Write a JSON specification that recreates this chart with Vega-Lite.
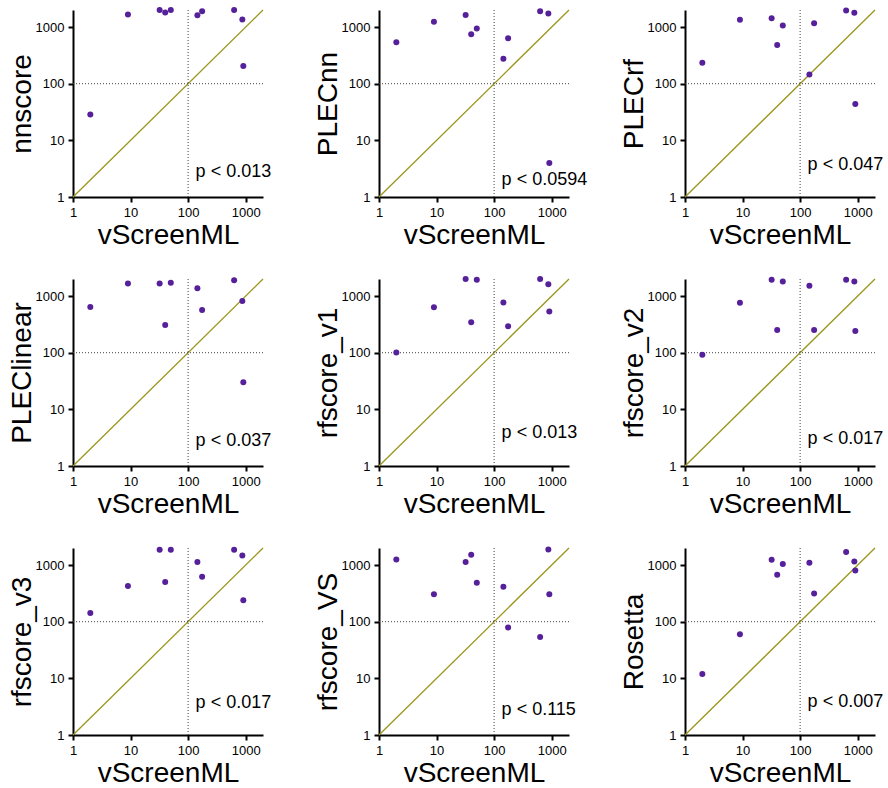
{
"$schema": "https://vega.github.io/schema/vega-lite/v6.json",
"padding": {"left": 8, "top": 7, "right": 5, "bottom": 0},
"background": "white",
"columns": 3,
"bounds": "flush",
"spacing": {"row": 82, "column": 116},
"datasets": {
"diag": [{"v": 1}, {"v": 2000}],
"pv": [
{"method": "nnscore", "label": "p < 0.013", "ypos": 2.8},
{"method": "PLECnn", "label": "p < 0.0594", "ypos": 2.0},
{"method": "PLECrf", "label": "p < 0.047", "ypos": 3.7},
{"method": "PLEClinear", "label": "p < 0.037", "ypos": 2.8},
{"method": "rfscore_v1", "label": "p < 0.013", "ypos": 3.8},
{"method": "rfscore_v2", "label": "p < 0.017", "ypos": 3.0},
{"method": "rfscore_v3", "label": "p < 0.017", "ypos": 3.7},
{"method": "rfscore_VS", "label": "p < 0.115", "ypos": 2.8},
{"method": "Rosetta", "label": "p < 0.007", "ypos": 3.8}
],
"pts": [
{"method":"nnscore","vscreenml":2,"score":28.7},{"method":"nnscore","vscreenml":9,"score":1660},{"method":"nnscore","vscreenml":32,"score":2000},{"method":"nnscore","vscreenml":40,"score":1800},{"method":"nnscore","vscreenml":50,"score":2000},{"method":"nnscore","vscreenml":145,"score":1620},{"method":"nnscore","vscreenml":175,"score":1900},{"method":"nnscore","vscreenml":630,"score":2000},{"method":"nnscore","vscreenml":875,"score":1357},{"method":"nnscore","vscreenml":910,"score":205},
{"method":"PLECnn","vscreenml":2,"score":540},{"method":"PLECnn","vscreenml":9,"score":1235},{"method":"PLECnn","vscreenml":32,"score":1640},{"method":"PLECnn","vscreenml":40,"score":747},{"method":"PLECnn","vscreenml":50,"score":940},{"method":"PLECnn","vscreenml":145,"score":277},{"method":"PLECnn","vscreenml":175,"score":634},{"method":"PLECnn","vscreenml":630,"score":1905},{"method":"PLECnn","vscreenml":875,"score":1734},{"method":"PLECnn","vscreenml":910,"score":4.0},
{"method":"PLECrf","vscreenml":2,"score":235},{"method":"PLECrf","vscreenml":9,"score":1340},{"method":"PLECrf","vscreenml":32,"score":1433},{"method":"PLECrf","vscreenml":40,"score":483},{"method":"PLECrf","vscreenml":50,"score":1063},{"method":"PLECrf","vscreenml":145,"score":146},{"method":"PLECrf","vscreenml":175,"score":1169},{"method":"PLECrf","vscreenml":630,"score":1960},{"method":"PLECrf","vscreenml":875,"score":1780},{"method":"PLECrf","vscreenml":910,"score":43.7},
{"method":"PLEClinear","vscreenml":2,"score":643},{"method":"PLEClinear","vscreenml":9,"score":1665},{"method":"PLEClinear","vscreenml":32,"score":1665},{"method":"PLEClinear","vscreenml":40,"score":309},{"method":"PLEClinear","vscreenml":50,"score":1710},{"method":"PLEClinear","vscreenml":145,"score":1376},{"method":"PLEClinear","vscreenml":175,"score":569},{"method":"PLEClinear","vscreenml":630,"score":1905},{"method":"PLEClinear","vscreenml":875,"score":821},{"method":"PLEClinear","vscreenml":910,"score":30.2},
{"method":"rfscore_v1","vscreenml":2,"score":101},{"method":"rfscore_v1","vscreenml":9,"score":634},{"method":"rfscore_v1","vscreenml":32,"score":2000},{"method":"rfscore_v1","vscreenml":40,"score":344},{"method":"rfscore_v1","vscreenml":50,"score":1932},{"method":"rfscore_v1","vscreenml":145,"score":767},{"method":"rfscore_v1","vscreenml":175,"score":292},{"method":"rfscore_v1","vscreenml":630,"score":2000},{"method":"rfscore_v1","vscreenml":875,"score":1620},{"method":"rfscore_v1","vscreenml":910,"score":532},
{"method":"rfscore_v2","vscreenml":2,"score":92},{"method":"rfscore_v2","vscreenml":9,"score":763},{"method":"rfscore_v2","vscreenml":32,"score":1943},{"method":"rfscore_v2","vscreenml":40,"score":251},{"method":"rfscore_v2","vscreenml":50,"score":1815},{"method":"rfscore_v2","vscreenml":145,"score":1522},{"method":"rfscore_v2","vscreenml":175,"score":251},{"method":"rfscore_v2","vscreenml":630,"score":1943},{"method":"rfscore_v2","vscreenml":875,"score":1815},{"method":"rfscore_v2","vscreenml":910,"score":241},
{"method":"rfscore_v3","vscreenml":2,"score":142},{"method":"rfscore_v3","vscreenml":9,"score":426},{"method":"rfscore_v3","vscreenml":32,"score":1865},{"method":"rfscore_v3","vscreenml":40,"score":501},{"method":"rfscore_v3","vscreenml":50,"score":1865},{"method":"rfscore_v3","vscreenml":145,"score":1130},{"method":"rfscore_v3","vscreenml":175,"score":623},{"method":"rfscore_v3","vscreenml":630,"score":1865},{"method":"rfscore_v3","vscreenml":875,"score":1481},{"method":"rfscore_v3","vscreenml":910,"score":238},
{"method":"rfscore_VS","vscreenml":2,"score":1259},{"method":"rfscore_VS","vscreenml":9,"score":304},{"method":"rfscore_VS","vscreenml":32,"score":1130},{"method":"rfscore_VS","vscreenml":40,"score":1522},{"method":"rfscore_VS","vscreenml":50,"score":488},{"method":"rfscore_VS","vscreenml":145,"score":415},{"method":"rfscore_VS","vscreenml":175,"score":79},{"method":"rfscore_VS","vscreenml":630,"score":53.6},{"method":"rfscore_VS","vscreenml":875,"score":1890},{"method":"rfscore_VS","vscreenml":910,"score":304},
{"method":"Rosetta","vscreenml":2,"score":11.9},{"method":"Rosetta","vscreenml":9,"score":59.8},{"method":"Rosetta","vscreenml":32,"score":1243},{"method":"Rosetta","vscreenml":40,"score":675},{"method":"Rosetta","vscreenml":50,"score":1042},{"method":"Rosetta","vscreenml":145,"score":1099},{"method":"Rosetta","vscreenml":175,"score":316},{"method":"Rosetta","vscreenml":630,"score":1695},{"method":"Rosetta","vscreenml":875,"score":1161},{"method":"Rosetta","vscreenml":910,"score":805}
]
},
"concat": [
{"width":190,"height":187,"layer":[
{"data":{"name":"diag"},"mark":{"type":"line","color":"#9a961c","strokeWidth":1.3},"encoding":{"x":{"field":"v","type":"quantitative","title":"vScreenML","scale":{"type":"log","domain":[1,2000],"nice":false},"axis":{"values":[1,10,100,1000],"format":"d"}},"y":{"field":"v","type":"quantitative","title":"nnscore","scale":{"type":"log","domain":[1,2000],"nice":false},"axis":{"values":[1,10,100,1000],"format":"d"}}}},
{"data":{"values":[{}]},"mark":{"type":"rule","strokeDash":[1,2],"color":"#444","strokeWidth":1},"encoding":{"x":{"datum":100}}},
{"data":{"values":[{}]},"mark":{"type":"rule","strokeDash":[1,2],"color":"#444","strokeWidth":1},"encoding":{"y":{"datum":100}}},
{"data":{"name":"pts"},"transform":[{"filter":"datum.method === 'nnscore'"}],"mark":{"type":"circle","size":36,"color":"#55209a","opacity":1},"encoding":{"x":{"field":"vscreenml","type":"quantitative","title":"vScreenML"},"y":{"field":"score","type":"quantitative","title":"nnscore"}}},
{"data":{"name":"pv"},"transform":[{"filter":"datum.method === 'nnscore'"}],"mark":{"type":"text","align":"left","baseline":"middle","fontSize":18},"encoding":{"x":{"datum":135},"y":{"field":"ypos","type":"quantitative"},"text":{"field":"label"}}}
]},
{"width":190,"height":187,"layer":[
{"data":{"name":"diag"},"mark":{"type":"line","color":"#9a961c","strokeWidth":1.3},"encoding":{"x":{"field":"v","type":"quantitative","title":"vScreenML","scale":{"type":"log","domain":[1,2000],"nice":false},"axis":{"values":[1,10,100,1000],"format":"d"}},"y":{"field":"v","type":"quantitative","title":"PLECnn","scale":{"type":"log","domain":[1,2000],"nice":false},"axis":{"values":[1,10,100,1000],"format":"d"}}}},
{"data":{"values":[{}]},"mark":{"type":"rule","strokeDash":[1,2],"color":"#444","strokeWidth":1},"encoding":{"x":{"datum":100}}},
{"data":{"values":[{}]},"mark":{"type":"rule","strokeDash":[1,2],"color":"#444","strokeWidth":1},"encoding":{"y":{"datum":100}}},
{"data":{"name":"pts"},"transform":[{"filter":"datum.method === 'PLECnn'"}],"mark":{"type":"circle","size":36,"color":"#55209a","opacity":1},"encoding":{"x":{"field":"vscreenml","type":"quantitative","title":"vScreenML"},"y":{"field":"score","type":"quantitative","title":"PLECnn"}}},
{"data":{"name":"pv"},"transform":[{"filter":"datum.method === 'PLECnn'"}],"mark":{"type":"text","align":"left","baseline":"middle","fontSize":18},"encoding":{"x":{"datum":135},"y":{"field":"ypos","type":"quantitative"},"text":{"field":"label"}}}
]},
{"width":190,"height":187,"layer":[
{"data":{"name":"diag"},"mark":{"type":"line","color":"#9a961c","strokeWidth":1.3},"encoding":{"x":{"field":"v","type":"quantitative","title":"vScreenML","scale":{"type":"log","domain":[1,2000],"nice":false},"axis":{"values":[1,10,100,1000],"format":"d"}},"y":{"field":"v","type":"quantitative","title":"PLECrf","scale":{"type":"log","domain":[1,2000],"nice":false},"axis":{"values":[1,10,100,1000],"format":"d"}}}},
{"data":{"values":[{}]},"mark":{"type":"rule","strokeDash":[1,2],"color":"#444","strokeWidth":1},"encoding":{"x":{"datum":100}}},
{"data":{"values":[{}]},"mark":{"type":"rule","strokeDash":[1,2],"color":"#444","strokeWidth":1},"encoding":{"y":{"datum":100}}},
{"data":{"name":"pts"},"transform":[{"filter":"datum.method === 'PLECrf'"}],"mark":{"type":"circle","size":36,"color":"#55209a","opacity":1},"encoding":{"x":{"field":"vscreenml","type":"quantitative","title":"vScreenML"},"y":{"field":"score","type":"quantitative","title":"PLECrf"}}},
{"data":{"name":"pv"},"transform":[{"filter":"datum.method === 'PLECrf'"}],"mark":{"type":"text","align":"left","baseline":"middle","fontSize":18},"encoding":{"x":{"datum":135},"y":{"field":"ypos","type":"quantitative"},"text":{"field":"label"}}}
]},
{"width":190,"height":187,"layer":[
{"data":{"name":"diag"},"mark":{"type":"line","color":"#9a961c","strokeWidth":1.3},"encoding":{"x":{"field":"v","type":"quantitative","title":"vScreenML","scale":{"type":"log","domain":[1,2000],"nice":false},"axis":{"values":[1,10,100,1000],"format":"d"}},"y":{"field":"v","type":"quantitative","title":"PLEClinear","scale":{"type":"log","domain":[1,2000],"nice":false},"axis":{"values":[1,10,100,1000],"format":"d"}}}},
{"data":{"values":[{}]},"mark":{"type":"rule","strokeDash":[1,2],"color":"#444","strokeWidth":1},"encoding":{"x":{"datum":100}}},
{"data":{"values":[{}]},"mark":{"type":"rule","strokeDash":[1,2],"color":"#444","strokeWidth":1},"encoding":{"y":{"datum":100}}},
{"data":{"name":"pts"},"transform":[{"filter":"datum.method === 'PLEClinear'"}],"mark":{"type":"circle","size":36,"color":"#55209a","opacity":1},"encoding":{"x":{"field":"vscreenml","type":"quantitative","title":"vScreenML"},"y":{"field":"score","type":"quantitative","title":"PLEClinear"}}},
{"data":{"name":"pv"},"transform":[{"filter":"datum.method === 'PLEClinear'"}],"mark":{"type":"text","align":"left","baseline":"middle","fontSize":18},"encoding":{"x":{"datum":135},"y":{"field":"ypos","type":"quantitative"},"text":{"field":"label"}}}
]},
{"width":190,"height":187,"layer":[
{"data":{"name":"diag"},"mark":{"type":"line","color":"#9a961c","strokeWidth":1.3},"encoding":{"x":{"field":"v","type":"quantitative","title":"vScreenML","scale":{"type":"log","domain":[1,2000],"nice":false},"axis":{"values":[1,10,100,1000],"format":"d"}},"y":{"field":"v","type":"quantitative","title":"rfscore_v1","scale":{"type":"log","domain":[1,2000],"nice":false},"axis":{"values":[1,10,100,1000],"format":"d"}}}},
{"data":{"values":[{}]},"mark":{"type":"rule","strokeDash":[1,2],"color":"#444","strokeWidth":1},"encoding":{"x":{"datum":100}}},
{"data":{"values":[{}]},"mark":{"type":"rule","strokeDash":[1,2],"color":"#444","strokeWidth":1},"encoding":{"y":{"datum":100}}},
{"data":{"name":"pts"},"transform":[{"filter":"datum.method === 'rfscore_v1'"}],"mark":{"type":"circle","size":36,"color":"#55209a","opacity":1},"encoding":{"x":{"field":"vscreenml","type":"quantitative","title":"vScreenML"},"y":{"field":"score","type":"quantitative","title":"rfscore_v1"}}},
{"data":{"name":"pv"},"transform":[{"filter":"datum.method === 'rfscore_v1'"}],"mark":{"type":"text","align":"left","baseline":"middle","fontSize":18},"encoding":{"x":{"datum":135},"y":{"field":"ypos","type":"quantitative"},"text":{"field":"label"}}}
]},
{"width":190,"height":187,"layer":[
{"data":{"name":"diag"},"mark":{"type":"line","color":"#9a961c","strokeWidth":1.3},"encoding":{"x":{"field":"v","type":"quantitative","title":"vScreenML","scale":{"type":"log","domain":[1,2000],"nice":false},"axis":{"values":[1,10,100,1000],"format":"d"}},"y":{"field":"v","type":"quantitative","title":"rfscore_v2","scale":{"type":"log","domain":[1,2000],"nice":false},"axis":{"values":[1,10,100,1000],"format":"d"}}}},
{"data":{"values":[{}]},"mark":{"type":"rule","strokeDash":[1,2],"color":"#444","strokeWidth":1},"encoding":{"x":{"datum":100}}},
{"data":{"values":[{}]},"mark":{"type":"rule","strokeDash":[1,2],"color":"#444","strokeWidth":1},"encoding":{"y":{"datum":100}}},
{"data":{"name":"pts"},"transform":[{"filter":"datum.method === 'rfscore_v2'"}],"mark":{"type":"circle","size":36,"color":"#55209a","opacity":1},"encoding":{"x":{"field":"vscreenml","type":"quantitative","title":"vScreenML"},"y":{"field":"score","type":"quantitative","title":"rfscore_v2"}}},
{"data":{"name":"pv"},"transform":[{"filter":"datum.method === 'rfscore_v2'"}],"mark":{"type":"text","align":"left","baseline":"middle","fontSize":18},"encoding":{"x":{"datum":135},"y":{"field":"ypos","type":"quantitative"},"text":{"field":"label"}}}
]},
{"width":190,"height":187,"layer":[
{"data":{"name":"diag"},"mark":{"type":"line","color":"#9a961c","strokeWidth":1.3},"encoding":{"x":{"field":"v","type":"quantitative","title":"vScreenML","scale":{"type":"log","domain":[1,2000],"nice":false},"axis":{"values":[1,10,100,1000],"format":"d"}},"y":{"field":"v","type":"quantitative","title":"rfscore_v3","scale":{"type":"log","domain":[1,2000],"nice":false},"axis":{"values":[1,10,100,1000],"format":"d"}}}},
{"data":{"values":[{}]},"mark":{"type":"rule","strokeDash":[1,2],"color":"#444","strokeWidth":1},"encoding":{"x":{"datum":100}}},
{"data":{"values":[{}]},"mark":{"type":"rule","strokeDash":[1,2],"color":"#444","strokeWidth":1},"encoding":{"y":{"datum":100}}},
{"data":{"name":"pts"},"transform":[{"filter":"datum.method === 'rfscore_v3'"}],"mark":{"type":"circle","size":36,"color":"#55209a","opacity":1},"encoding":{"x":{"field":"vscreenml","type":"quantitative","title":"vScreenML"},"y":{"field":"score","type":"quantitative","title":"rfscore_v3"}}},
{"data":{"name":"pv"},"transform":[{"filter":"datum.method === 'rfscore_v3'"}],"mark":{"type":"text","align":"left","baseline":"middle","fontSize":18},"encoding":{"x":{"datum":135},"y":{"field":"ypos","type":"quantitative"},"text":{"field":"label"}}}
]},
{"width":190,"height":187,"layer":[
{"data":{"name":"diag"},"mark":{"type":"line","color":"#9a961c","strokeWidth":1.3},"encoding":{"x":{"field":"v","type":"quantitative","title":"vScreenML","scale":{"type":"log","domain":[1,2000],"nice":false},"axis":{"values":[1,10,100,1000],"format":"d"}},"y":{"field":"v","type":"quantitative","title":"rfscore_VS","scale":{"type":"log","domain":[1,2000],"nice":false},"axis":{"values":[1,10,100,1000],"format":"d"}}}},
{"data":{"values":[{}]},"mark":{"type":"rule","strokeDash":[1,2],"color":"#444","strokeWidth":1},"encoding":{"x":{"datum":100}}},
{"data":{"values":[{}]},"mark":{"type":"rule","strokeDash":[1,2],"color":"#444","strokeWidth":1},"encoding":{"y":{"datum":100}}},
{"data":{"name":"pts"},"transform":[{"filter":"datum.method === 'rfscore_VS'"}],"mark":{"type":"circle","size":36,"color":"#55209a","opacity":1},"encoding":{"x":{"field":"vscreenml","type":"quantitative","title":"vScreenML"},"y":{"field":"score","type":"quantitative","title":"rfscore_VS"}}},
{"data":{"name":"pv"},"transform":[{"filter":"datum.method === 'rfscore_VS'"}],"mark":{"type":"text","align":"left","baseline":"middle","fontSize":18},"encoding":{"x":{"datum":135},"y":{"field":"ypos","type":"quantitative"},"text":{"field":"label"}}}
]},
{"width":190,"height":187,"layer":[
{"data":{"name":"diag"},"mark":{"type":"line","color":"#9a961c","strokeWidth":1.3},"encoding":{"x":{"field":"v","type":"quantitative","title":"vScreenML","scale":{"type":"log","domain":[1,2000],"nice":false},"axis":{"values":[1,10,100,1000],"format":"d"}},"y":{"field":"v","type":"quantitative","title":"Rosetta","scale":{"type":"log","domain":[1,2000],"nice":false},"axis":{"values":[1,10,100,1000],"format":"d"}}}},
{"data":{"values":[{}]},"mark":{"type":"rule","strokeDash":[1,2],"color":"#444","strokeWidth":1},"encoding":{"x":{"datum":100}}},
{"data":{"values":[{}]},"mark":{"type":"rule","strokeDash":[1,2],"color":"#444","strokeWidth":1},"encoding":{"y":{"datum":100}}},
{"data":{"name":"pts"},"transform":[{"filter":"datum.method === 'Rosetta'"}],"mark":{"type":"circle","size":36,"color":"#55209a","opacity":1},"encoding":{"x":{"field":"vscreenml","type":"quantitative","title":"vScreenML"},"y":{"field":"score","type":"quantitative","title":"Rosetta"}}},
{"data":{"name":"pv"},"transform":[{"filter":"datum.method === 'Rosetta'"}],"mark":{"type":"text","align":"left","baseline":"middle","fontSize":18},"encoding":{"x":{"datum":135},"y":{"field":"ypos","type":"quantitative"},"text":{"field":"label"}}}
]}
],
"config": {
"font": "Liberation Sans",
"view": {"stroke": null},
"text": {"font": "Liberation Sans", "color": "black"},
"axis": {"grid": false, "domainColor": "black", "domainWidth": 2, "tickColor": "black", "tickWidth": 2, "tickSize": 5, "labelFontSize": 13, "labelColor": "black", "labelPadding": 4, "labelFlush": false, "labelOverlap": false, "labelFont": "Liberation Sans", "titleFont": "Liberation Sans", "titleFontSize": 28, "titleFontWeight": "normal", "titleColor": "black", "titlePadding": 2},
"axisY": {"titlePadding": -1}
}
}
